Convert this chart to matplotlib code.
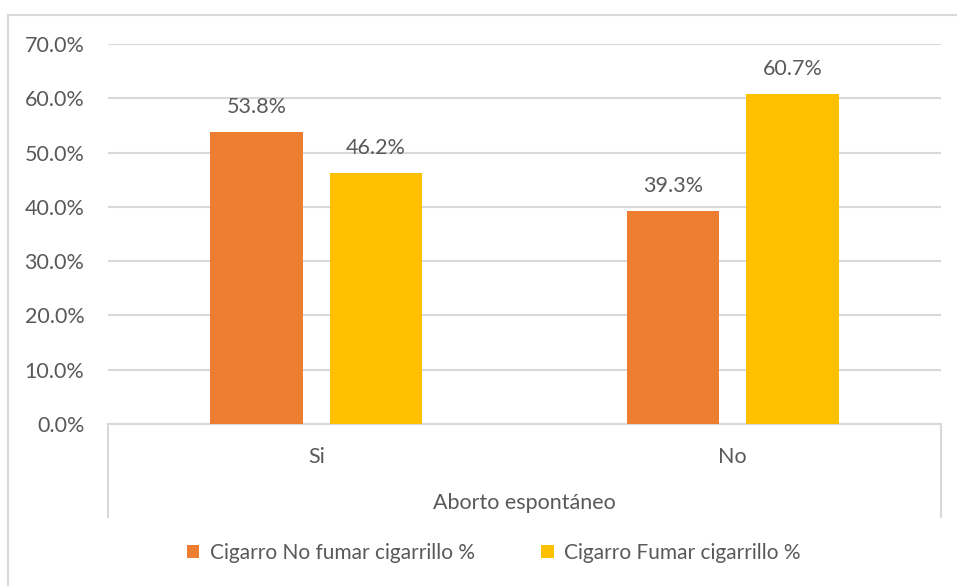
import matplotlib
matplotlib.use("Agg")
import matplotlib.pyplot as plt
from matplotlib.patches import Rectangle
from matplotlib.lines import Line2D
import numpy as np

categories = ["Si", "No"]
no_fumar = [53.8, 39.3]
fumar = [46.2, 60.7]
series_names = ["Cigarro No fumar cigarrillo %", "Cigarro Fumar cigarrillo %"]
axis_title = "Aborto espontáneo"
y_ticks = [0, 10, 20, 30, 40, 50, 60, 70]

plt.rcParams["font.family"] = ["Lato", "DejaVu Sans"]
TEXT = "#595959"
GRID = "#D9D9D9"
ORANGE = "#ED7D31"
YELLOW = "#FFC000"
FS = 15.5

W, H = 957, 586
fig = plt.figure(figsize=(W / 100, H / 100), dpi=100)

# Chart frame
fig.patches.append(Rectangle((8 / W, -0.1), 1.1, 1 - 15 / H + 0.1, transform=fig.transFigure,
                             fill=False, edgecolor=GRID, linewidth=1.5))

left, right, top, bottom = 108 / W, 941 / W, 1 - 44 / H, 1 - 424 / H
ax = fig.add_axes([left, bottom, right - left, top - bottom])

x = np.arange(len(categories))
bw = 0.223
off = 0.1435
b1 = ax.bar(x - off, no_fumar, bw, color=ORANGE, label=series_names[0], zorder=3)
b2 = ax.bar(x + off, fumar, bw, color=YELLOW, label=series_names[1], zorder=3)

for bars, vals in ((b1, no_fumar), (b2, fumar)):
    for rect, v in zip(bars, vals):
        ax.annotate(f"{v:.1f}%", (rect.get_x() + rect.get_width() / 2, v),
                    xytext=(0, 18), textcoords="offset points",
                    ha="center", va="center", fontsize=FS, color=TEXT)

ax.set_xlim(-0.5, 1.5)
ax.set_ylim(0, 70)
ax.set_yticks(y_ticks)
ax.set_yticklabels([f"{t:.1f}%" for t in y_ticks], fontsize=FS, color=TEXT)
ax.tick_params(axis="y", length=0, pad=17)
ax.set_xticks([])
ax.yaxis.grid(True, color=GRID, linewidth=1.5, zorder=0)
ax.set_axisbelow(True)
for s in ("top", "right", "left"):
    ax.spines[s].set_visible(False)
ax.spines["bottom"].set_color(GRID)
ax.spines["bottom"].set_linewidth(1.5)

# Category axis with group title
for xv in (-0.5, 1.5):
    ax.add_line(Line2D([xv, xv], [0, -93 / 380 * 70], color=GRID, linewidth=1.5, clip_on=False))
for xi, c in zip(x, categories):
    ax.text(xi, -33 / 380 * 70, c, ha="center", va="center", fontsize=FS, color=TEXT)
ax.text(0.5, -79 / 380 * 70, axis_title, ha="center", va="center", fontsize=FS, color=TEXT)

fig.legend(handles=[b1, b2], labels=series_names, loc="center", bbox_to_anchor=(0.516, 1 - 553 / H),
           ncol=2, frameon=False, fontsize=15, labelcolor=TEXT, handlelength=0.6, handleheight=0.6,
           handletextpad=0.5, columnspacing=3.2)

fig.savefig("out.png", dpi=100)
